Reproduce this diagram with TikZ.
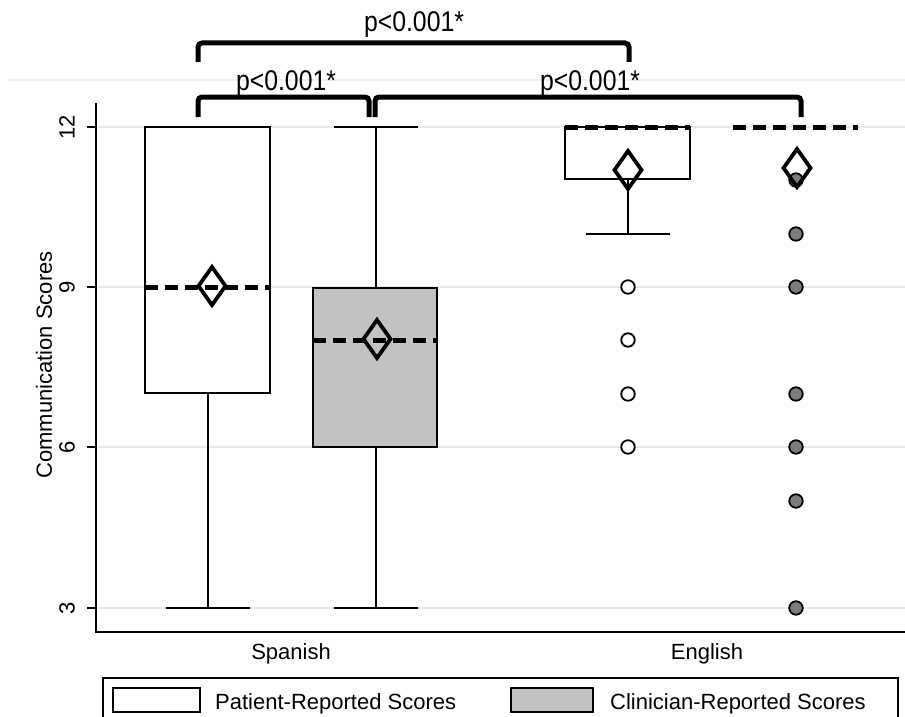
\documentclass[tikz,border=0pt]{standalone}
\usepackage{fontspec}
\setmainfont{Liberation Sans}
\definecolor{gridc}{HTML}{E4EBEE}
\definecolor{boxgrey}{HTML}{C2C2C2}
\definecolor{outgrey}{HTML}{7C7C7C}
\begin{document}
\begin{tikzpicture}[x=1pt,y=-1pt,
  grid/.style={draw=gridc, line width=1.5pt},
  boxst/.style={draw=black, line width=2pt},
  whisk/.style={draw=black, line width=2pt},
  med/.style={draw=black, line width=5pt, dash pattern=on 13pt off 7pt},
  meanmk/.style={draw=black, line width=3.8pt, line join=miter},
  brk/.style={draw=black, line width=5pt, rounded corners=4pt},
  outo/.style={circle, draw=black, line width=1.8pt, fill=white, minimum size=13.5pt, inner sep=0pt},
  outg/.style={outo, fill=outgrey},
  lbl/.style={font=\fontsize{22}{26}\selectfont, inner sep=0pt},
  plbl/.style={font=\fontsize{28.5}{32}\selectfont, inner sep=0pt},
  meandia/.pic={\draw[meanmk] (0,-19) -- (13.5,0) -- (0,19) -- (-13.5,0) -- cycle;}
]
\useasboundingbox (0,0) rectangle (905,717);
\clip (0,0) rectangle (905,717);
\fill[white] (0,0) rectangle (905,717);

% gridlines
\draw[draw=gridc!70, line width=1.2pt] (8,80) -- (905,80);
\foreach \yy in {127,287,447,608} \draw[grid] (98,\yy) -- (905,\yy);

% Spanish patient
\draw[boxst, fill=white] (145,127) rectangle (270,393);
\draw[whisk] (208,393) -- (208,608);
\draw[whisk] (166,608) -- (250,608);
\draw[med] (145,287) -- (270,287);

% Spanish clinician
\draw[whisk] (376,127) -- (376,288);
\draw[whisk] (334,127) -- (418,127);
\draw[whisk] (376,447) -- (376,608);
\draw[whisk] (334,608) -- (418,608);
\draw[boxst, fill=boxgrey] (313,288) rectangle (437,447);
\draw[med] (313,340) -- (437,340);

% English patient
\draw[boxst, fill=white] (565,127) rectangle (690,179);
\draw[whisk] (628,179) -- (628,234);
\draw[whisk] (586,234) -- (670,234);
\draw[med] (565,127) -- (690,127);
\foreach \yy [count=\i] in {287,340,394,447} \node[outo] (ep\i) at (628,\yy) {};

% English clinician
\draw[med] (733,127) -- (858,127);
\foreach \yy [count=\i] in {180,234,287,394,447,501,608} \node[outg] (ec\i) at (796,\yy) {};

% means
\pic at (212,286) {meandia};
\pic at (377,339) {meandia};
\pic at (628,170) {meandia};
\pic at (797,168) {meandia};

% axes
\draw[line width=2pt] (96,103) -- (96,632) -- (905,632);
\foreach \yy/\t in {127/12,287/9,447/6,608/3} {
  \draw[line width=2pt] (87,\yy) -- (96,\yy);
  \node[lbl, rotate=90] (tick\t) at (67,\yy) {\t};
}
\node[lbl, rotate=90] (ytitle) at (44,365) {Communication Scores};
\node[lbl, anchor=base] (spanish) at (291,659) {Spanish};
\node[lbl, anchor=base] (english) at (707,659) {English};

% significance brackets
\coordinate (t1) at (198,62); \coordinate (t2) at (629,62);
\draw[brk] (t1) -- (198,43) -- (629,43) -- (t2);
\coordinate (l1) at (198,117); \coordinate (l2) at (369,117);
\draw[brk] (l1) -- (198,97) -- (369,97) -- (l2);
\coordinate (r1) at (375,117); \coordinate (r2) at (801,117);
\draw[brk] (r1) -- (375,97) -- (801,97) -- (r2);
\node[plbl, anchor=base] (ptop) at (414,32) {\scalebox{0.87}[1]{p<0.001*}};
\node[plbl, anchor=base] (pleft) at (286,90) {\scalebox{0.87}[1]{p<0.001*}};
\node[plbl, anchor=base] (pright) at (590,90) {\scalebox{0.87}[1]{p<0.001*}};

% legend
\draw[line width=1.5pt, fill=white] (103,678) rectangle (898,740);
\draw[line width=2pt, fill=white] (113,688) rectangle (200,712);
\draw[line width=2pt, fill=boxgrey] (511,688) rectangle (593,712);
\node[lbl, anchor=base west] (legp) at (215,709) {Patient-Reported Scores};
\node[lbl, anchor=base west] (legc) at (610,709) {Clinician-Reported Scores};
\end{tikzpicture}
\end{document}
